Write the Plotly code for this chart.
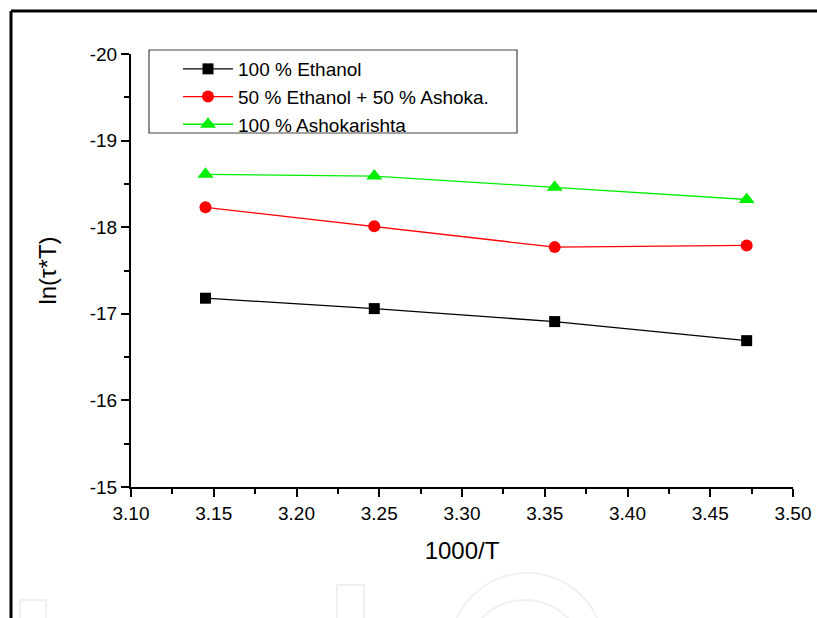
import plotly.graph_objects as go

# ---- data ----
x_vals = [3.145, 3.247, 3.356, 3.472]
ethanol = [-17.18, -17.06, -16.91, -16.69]
mix = [-18.23, -18.01, -17.77, -17.79]
ashok = [-18.61, -18.59, -18.46, -18.32]
names = ["100 % Ethanol", "50 % Ethanol + 50 % Ashoka.", "100 % Ashokarishta"]
x_ticks = [3.10, 3.15, 3.20, 3.25, 3.30, 3.35, 3.40, 3.45, 3.50]
y_ticks = [-20, -19, -18, -17, -16, -15]

W, H = 817, 618
L, R, T, B = 131, 24, 54, 131
pw, ph = W - L - R, H - T - B


def px(xp):
    return (xp - L) / pw


def py(yp):
    return (H - B - yp) / ph


FONT = "Arial, Liberation Sans, sans-serif"

fig = go.Figure()
fig.add_trace(go.Scatter(x=x_vals, y=ethanol, name=names[0], mode="lines+markers",
                         line=dict(color="black", width=1.3),
                         marker=dict(symbol="square", size=11, color="black")))
fig.add_trace(go.Scatter(x=x_vals, y=mix, name=names[1], mode="lines+markers",
                         line=dict(color="#ff0000", width=1.3),
                         marker=dict(symbol="circle", size=12, color="#ff0000")))
fig.add_trace(go.Scatter(x=x_vals, y=ashok, name=names[2], mode="lines+markers",
                         line=dict(color="#00ee00", width=1.3),
                         marker=dict(symbol="triangle-up", size=14, color="#00ee00")))

shapes = []
# outer frame (left and top)
shapes.append(dict(type="line", xref="paper", yref="paper", x0=px(11), x1=px(11),
                   y0=py(11), y1=py(640), line=dict(color="black", width=3)))
shapes.append(dict(type="line", xref="paper", yref="paper", x0=px(11), x1=px(840),
                   y0=py(11), y1=py(11), line=dict(color="black", width=3)))
# legend box
shapes.append(dict(type="rect", xref="paper", yref="paper", x0=px(149), x1=px(517),
                   y0=py(50), y1=py(133), line=dict(color="#444444", width=1.2)))
# faint watermark
wm = dict(color="#f0f0f0", width=2)
shapes.append(dict(type="rect", xref="paper", yref="paper", x0=px(20), x1=px(46),
                   y0=py(600), y1=py(700), line=wm, layer="below"))
shapes.append(dict(type="rect", xref="paper", yref="paper", x0=px(337), x1=px(364),
                   y0=py(585), y1=py(700), line=wm, layer="below"))
shapes.append(dict(type="circle", xref="paper", yref="paper", x0=px(450), x1=px(604),
                   y0=py(573), y1=py(727), line=wm, layer="below"))
shapes.append(dict(type="circle", xref="paper", yref="paper", x0=px(465), x1=px(585),
                   y0=py(600), y1=py(720), line=wm, layer="below"))

fig.update_layout(
    width=W, height=H,
    margin=dict(l=L, r=R, t=T, b=B, autoexpand=False),
    paper_bgcolor="white", plot_bgcolor="white",
    font=dict(family=FONT, color="black", size=19),
    shapes=shapes,
    showlegend=True,
    legend=dict(x=px(178), y=py(50), xanchor="left", yanchor="top",
                bgcolor="rgba(0,0,0,0)", borderwidth=0,
                font=dict(family=FONT, size=19), itemwidth=50,
                tracegroupgap=0),
    xaxis=dict(range=[3.10, 3.50], tickvals=x_ticks,
               ticktext=[f"{v:.2f}" for v in x_ticks],
               showline=True, linecolor="black", linewidth=2,
               ticks="outside", ticklen=8, tickwidth=2, tickcolor="black",
               minor=dict(dtick=0.025, ticks="outside", ticklen=5, tickwidth=2, tickcolor="black"),
               showgrid=False, zeroline=False, mirror=False, automargin=False,
               tickfont=dict(size=19),
               title=dict(text="1000/T", font=dict(size=24), standoff=19)),
    yaxis=dict(range=[-15, -20], tickvals=y_ticks,
               ticktext=[str(v) for v in y_ticks],
               showline=True, linecolor="black", linewidth=2,
               ticks="outside", ticklen=8, tickwidth=2, tickcolor="black",
               minor=dict(dtick=0.5, ticks="outside", ticklen=5, tickwidth=2, tickcolor="black"),
               showgrid=False, zeroline=False, mirror=False, automargin=False,
               tickfont=dict(size=19),
               title=dict(text="ln(τ*T)", font=dict(size=24), standoff=26)),
)

fig.write_html("out.html", config={"displayModeBar": False},
               post_script="document.body.style.margin='0';")
